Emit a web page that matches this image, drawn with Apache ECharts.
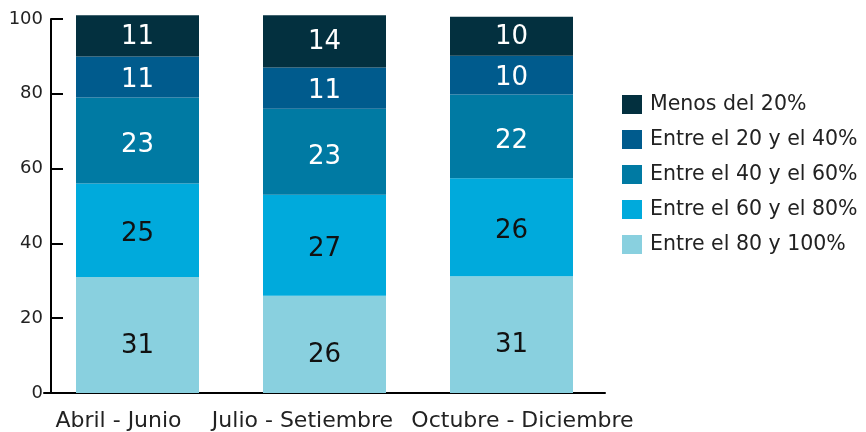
<!DOCTYPE html>
<html>
<head>
<meta charset="utf-8">
<script src="https://cdn.jsdelivr.net/npm/echarts@6/dist/echarts.min.js"></script>
<style>
  html, body { margin: 0; padding: 0; background: #fff; }
  #chart { width: 866px; height: 432px; }
</style>
</head>
<body>
<div id="chart"></div>
<script>
const categories = ['Abril - Junio', 'Julio - Setiembre', 'Octubre - Diciembre'];

// stacked from the bottom up
const entre80y100 = [31, 26, 31.2];
const entre60y80 = [25, 27, 26.2];
const entre40y60 = [23, 23, 22.4];
const entre20y40 = [11, 11, 10.4];
const menos20 = [11, 14, 10.4];

const seriesNames = ['Entre el 80 y 100%', 'Entre el 60 y el 80%', 'Entre el 40 y el 60%', 'Entre el 20 y el 40%', 'Menos del 20%'];
const seriesColors = ['#89d0df', '#00aadc', '#007aa3', '#005b8d', '#03303f'];
const labelColors = ['#111', '#111', '#fff', '#fff', '#fff'];
const labelNudge = [11, 4, 5, 3, 1]; // source labels sit a bit below centre
const seriesData = [entre80y100, entre60y80, entre40y60, entre20y40, menos20];

const font = 'DejaVu Sans';

const chart = echarts.init(document.getElementById('chart'));

chart.setOption({
  animation: false,
  textStyle: { fontFamily: font },
  grid: { left: 44, right: 261, top: 19, bottom: 38 },
  legend: {
    orient: 'vertical',
    left: 622,
    top: 94,
    padding: 0,
    itemWidth: 20,
    itemHeight: 19,
    itemGap: 14,
    icon: 'rect',
    data: seriesNames.slice().reverse(),
    textStyle: { fontFamily: font, fontSize: 20.5, color: '#222', padding: [0, 0, 0, 3] }
  },
  xAxis: {
    type: 'category',
    data: categories,
    axisLine: { lineStyle: { color: '#000', width: 2 } },
    axisTick: { show: false },
    axisLabel: {
      interval: 0,
      fontFamily: font,
      fontSize: 22,
      color: '#222',
      margin: 17,
      // the source labels sit a little off the bar centres
      formatter: (v, i) => '{c' + i + '|' + v + '}',
      rich: {
        c0: { fontFamily: font, fontSize: 22, color: '#222', padding: [0, 38, 0, 0] },
        c1: { fontFamily: font, fontSize: 22, color: '#222', padding: [0, 44, 0, 0] },
        c2: { fontFamily: font, fontSize: 22, color: '#222', padding: [0, 0, 0, 22] }
      }
    }
  },
  yAxis: {
    type: 'value',
    min: 0,
    max: 100,
    interval: 20,
    offset: -7,
    axisLine: { show: true, lineStyle: { color: '#000', width: 2 } },
    axisTick: { show: true, inside: true, length: 12, lineStyle: { color: '#000', width: 2 } },
    splitLine: { show: false },
    axisLabel: { fontFamily: font, fontSize: 18, color: '#222', margin: 8 }
  },
  series: seriesData.map((vals, i) => ({
    name: seriesNames[i],
    type: 'bar',
    stack: 'total',
    data: vals,
    barWidth: 123,
    clip: false,
    itemStyle: { color: seriesColors[i] },
    label: {
      show: true,
      position: 'inside',
      offset: [0, labelNudge[i]],
      fontFamily: font,
      fontSize: 26,
      color: labelColors[i],
      formatter: p => Math.round(p.value)
    }
  }))
});
</script>
</body>
</html>
